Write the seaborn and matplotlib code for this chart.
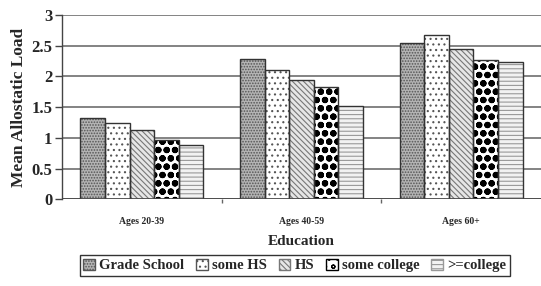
import matplotlib
matplotlib.use("Agg")
import matplotlib.pyplot as plt
import seaborn as sns
import pandas as pd
from matplotlib.patches import Patch
from matplotlib.ticker import FixedLocator

ages = ["Ages 20-39", "Ages 40-59", "Ages 60+"]
education = ["Grade School", "some HS", "HS", "some college", ">=college"]
grade_school = [1.33, 2.28, 2.55]
some_hs = [1.25, 2.11, 2.67]
hs = [1.12, 1.94, 2.45]
some_college = [0.97, 1.82, 2.26]
ge_college = [0.88, 1.52, 2.23]
yticks = [0, 0.5, 1, 1.5, 2, 2.5, 3]
ytick_labels = ["0", "0.5", "1", "1.5", "2", "2.5", "3"]

series = [grade_school, some_hs, hs, some_college, ge_college]
rows = []
for edu, vals in zip(education, series):
    for a, v in zip(ages, vals):
        rows.append({"age": a, "edu": edu, "load": v})
df = pd.DataFrame(rows)

sns.set_style("white")
plt.rcParams["font.family"] = ["Liberation Serif", "DejaVu Serif"]
plt.rcParams["hatch.linewidth"] = 0.8

styles = {
    "Grade School": dict(fc="#b4b4b4", hatch="......", hc="#555555", hlw=0.8),
    "some HS": dict(fc="white", hatch="...", hc="#555555", hlw=0.8),
    "HS": dict(fc="#e6e6e6", hatch="\\\\\\\\\\\\", hc="#777777", hlw=0.8),
    "some college": dict(fc="white", hatch="oo", hc="black", hlw=2.2),
    ">=college": dict(fc="#f2f2f2", hatch="----", hc="#999999", hlw=0.8),
}

def apply_style(p, st):
    p.set_facecolor(st["fc"])
    p.set_hatch(st["hatch"])
    p.set_edgecolor(st["hc"])
    try:
        p.set_hatch_linewidth(st["hlw"])
    except Exception:
        pass

fig = plt.figure(figsize=(5.41, 2.86), dpi=100)
ax = fig.add_axes([62/541, 1-199.3/286, 1-62/541, (199.3-15)/286])

sns.barplot(data=df, x="age", y="load", hue="edu", order=ages, hue_order=education,
            width=0.77, ax=ax, legend=False, errorbar=None, saturation=1)

for edu, cont in zip(education, ax.containers):
    st = styles[edu]
    for bar in cont:
        apply_style(bar, st)
        bar.set_linewidth(0.0)
        ax.add_patch(plt.Rectangle(bar.get_xy(), bar.get_width(), bar.get_height(),
                                   fill=False, edgecolor="#333333", linewidth=1.0, zorder=3))

ax.set_xlim(-0.5, 2.5)
ax.set_yticks(yticks)
ax.set_yticklabels(ytick_labels, fontsize=12, fontweight="bold")
ax.set_ylim(0, 3)
ax.yaxis.grid(True, color="#7a7a7a", linewidth=1.3)
ax.set_axisbelow(True)
for s in ["top", "right", "bottom"]:
    ax.spines[s].set_visible(False)
ax.spines["left"].set_color("#444444")
ax.spines["left"].set_linewidth(1.0)
ax.axhline(0, color="#444444", linewidth=1.2, zorder=4)
ax.tick_params(axis="y", left=True, length=5, width=1, color="#444444", pad=2)
ax.set_xticklabels(ages, fontsize=7, fontweight="bold")
ax.tick_params(axis="x", bottom=False, pad=9)
ax.xaxis.set_minor_locator(FixedLocator([0.5, 1.5]))
ax.tick_params(axis="x", which="minor", bottom=True, length=3, width=1, color="#666666")

ax.set_ylabel("Mean Allostatic Load", fontsize=12.5, fontweight="bold", labelpad=3)
ax.set_xlabel("Education", fontsize=11, fontweight="bold", labelpad=7)

handles = []
for e in education:
    p = Patch(label=e)
    apply_style(p, styles[e])
    handles.append(p)
leg = fig.legend(handles=handles, loc="lower center", bbox_to_anchor=(0.545, 0.01), ncol=5,
                 frameon=True, fancybox=False, edgecolor="black", handlelength=0.8,
                 handleheight=0.8, handletextpad=0.3, columnspacing=0.8, borderpad=0.25,
                 prop={"family": "Liberation Serif", "weight": "bold", "size": 10.5})
leg.get_frame().set_linewidth(1.0)

fig.savefig("out.png", dpi=100)
